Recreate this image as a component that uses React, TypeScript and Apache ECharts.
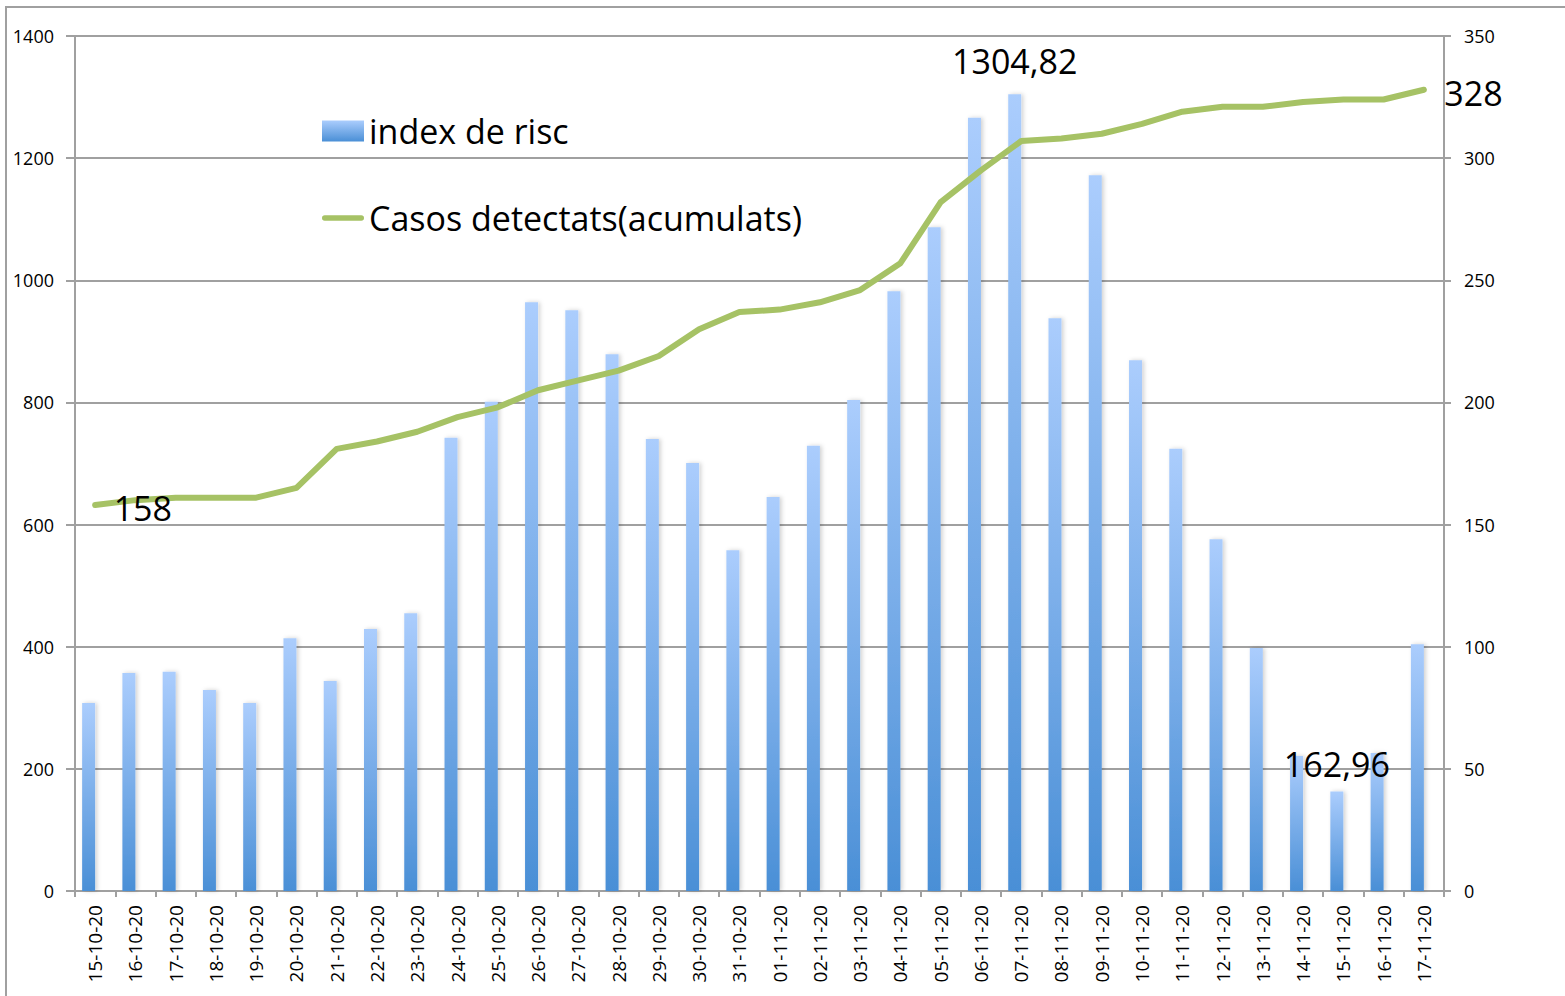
import React, { useEffect, useRef } from "react";
import * as echarts from "echarts";

const categories = [
  "15-10-20", "16-10-20", "17-10-20", "18-10-20", "19-10-20", "20-10-20", "21-10-20",
  "22-10-20", "23-10-20", "24-10-20", "25-10-20", "26-10-20", "27-10-20", "28-10-20",
  "29-10-20", "30-10-20", "31-10-20", "01-11-20", "02-11-20", "03-11-20", "04-11-20",
  "05-11-20", "06-11-20", "07-11-20", "08-11-20", "09-11-20", "10-11-20", "11-11-20",
  "12-11-20", "13-11-20", "14-11-20", "15-11-20", "16-11-20", "17-11-20",
];

const riskIndex = [
  308, 357, 359, 329, 308, 414, 344, 429, 455, 742, 801, 964, 951, 879, 740, 701, 558,
  645, 729, 804, 982, 1087, 1266, 1304.82, 938, 1172, 869, 724, 576, 398, 221, 162.96,
  226, 404,
];

const cumulativeCases = [
  158, 160, 161, 161, 161, 165, 181, 184, 188, 194, 198, 205, 209, 213, 219, 230, 237,
  238, 241, 246, 257, 282, 295, 307, 308, 310, 314, 319, 321, 321, 323, 324, 324, 328,
];

// Empty companion series (as in the source spreadsheet's clustered layout)
const emptySeries: number[] = [];

const leftTicks = [0, 1400, 200];
const rightTicks = [0, 350, 50];

const barLabelled = [1304.82, 162.96];
const lineLabelledIdx = [0, cumulativeCases.length - 1];

const FONT = "Open Sans";
const BIG = 34;
const GREEN = "#a6c265";

const fmt = (v: number) => String(v).replace(".", ",");

export default function App() {
  const ref = useRef<HTMLDivElement>(null);

  useEffect(() => {
    document.body.style.margin = "0";
    if (!ref.current) return;
    const chart = echarts.init(ref.current, null, { renderer: "svg" });

    const barData = riskIndex.map((v) => {
      if (barLabelled.includes(v)) {
        return {
          value: v,
          label: {
            show: true,
            position: "top",
            distance: v > 1000 ? 16 : 10,
            formatter: fmt(v),
            fontSize: BIG,
            color: "#000",
            fontFamily: FONT,
          },
        };
      }
      return v;
    });

    const lineData = cumulativeCases.map((v, i) => {
      if (lineLabelledIdx.includes(i)) {
        return {
          value: v,
          label: {
            show: true,
            position: "right",
            distance: i === 0 ? 18 : 20,
            offset: [0, 3],
            formatter: fmt(v),
            fontSize: BIG,
            color: "#000",
            fontFamily: FONT,
          },
        };
      }
      return v;
    });

    const gray = "#a0a0a0";

    chart.setOption({
      animation: false,
      backgroundColor: "#fff",
      textStyle: { fontFamily: FONT },
      graphic: [
        {
          type: "rect",
          shape: { x: 6, y: 7, width: 1620, height: 1050 },
          style: { fill: "none", stroke: gray, lineWidth: 2 },
          silent: true,
          z: -1,
        },
      ],
      legend: {
        orient: "vertical",
        left: 317,
        top: 106,
        itemGap: 47,
        itemWidth: 42,
        itemHeight: 21,
        textStyle: { fontSize: BIG, color: "#000", fontFamily: FONT, lineHeight: 40 },
        data: [
          { name: "index de risc", icon: "rect" },
          {
            name: "Casos detectats(acumulats)",
            icon: "path://M3,0 H43 A3,3 0 0 1 43,6 H3 A3,3 0 0 1 3,0 Z",
            itemStyle: { color: GREEN, opacity: 1 },
          },
        ],
      },
      grid: { left: 75, right: 121, top: 36, bottom: 105 },
      xAxis: {
        type: "category",
        data: categories,
        boundaryGap: true,
        axisLine: { lineStyle: { color: gray, width: 2 } },
        axisTick: { show: true, length: 6, lineStyle: { color: gray, width: 2 } },
        axisLabel: {
          rotate: 90,
          interval: 0,
          margin: 14,
          fontSize: 19,
          color: "#000",
          fontFamily: FONT,
        },
      },
      yAxis: [
        {
          type: "value",
          min: leftTicks[0],
          max: leftTicks[1],
          interval: leftTicks[2],
          axisLine: { show: true, lineStyle: { color: gray, width: 2 } },
          axisTick: { show: true, length: 9, lineStyle: { color: gray, width: 2 } },
          splitLine: { show: true, lineStyle: { color: gray, width: 2 } },
          axisLabel: {
            fontSize: 18,
            color: "#000",
            fontFamily: FONT,
            margin: 21,
            formatter: (v: number) => String(v),
          },
        },
        {
          type: "value",
          min: rightTicks[0],
          max: rightTicks[1],
          interval: rightTicks[2],
          position: "right",
          axisLine: { show: true, lineStyle: { color: gray, width: 2 } },
          axisTick: { show: true, length: 7, lineStyle: { color: gray, width: 2 } },
          splitLine: { show: false },
          axisLabel: {
            fontSize: 18,
            color: "#000",
            fontFamily: FONT,
            margin: 20,
            formatter: (v: number) => String(v),
          },
        },
      ],
      series: [
        {
          name: "index de risc",
          type: "bar",
          yAxisIndex: 0,
          barWidth: 13,
          barGap: "0%",
          data: barData,
          itemStyle: {
            color: new echarts.graphic.LinearGradient(0, 0, 0, 1, [
              { offset: 0, color: "#abcdfd" },
              { offset: 1, color: "#4a8fd6" },
            ]),
            shadowColor: "rgba(0,0,0,0.18)",
            shadowBlur: 4,
            shadowOffsetX: 2,
          },
        },
        {
          name: "hidden",
          type: "bar",
          yAxisIndex: 0,
          barWidth: 13,
          barGap: "0%",
          data: emptySeries,
        },
        {
          name: "Casos detectats(acumulats)",
          type: "line",
          yAxisIndex: 1,
          data: lineData,
          symbol: "circle",
          symbolSize: 1,
          showSymbol: true,
          showAllSymbol: true,
          lineStyle: { color: GREEN, width: 6, cap: "round", join: "round" },
          itemStyle: { color: "rgba(0,0,0,0)", borderWidth: 0 },
          z: 3,
        },
      ],
    });

    return () => chart.dispose();
  }, []);

  return <div ref={ref} style={{ width: 1565, height: 996 }} />;
}
